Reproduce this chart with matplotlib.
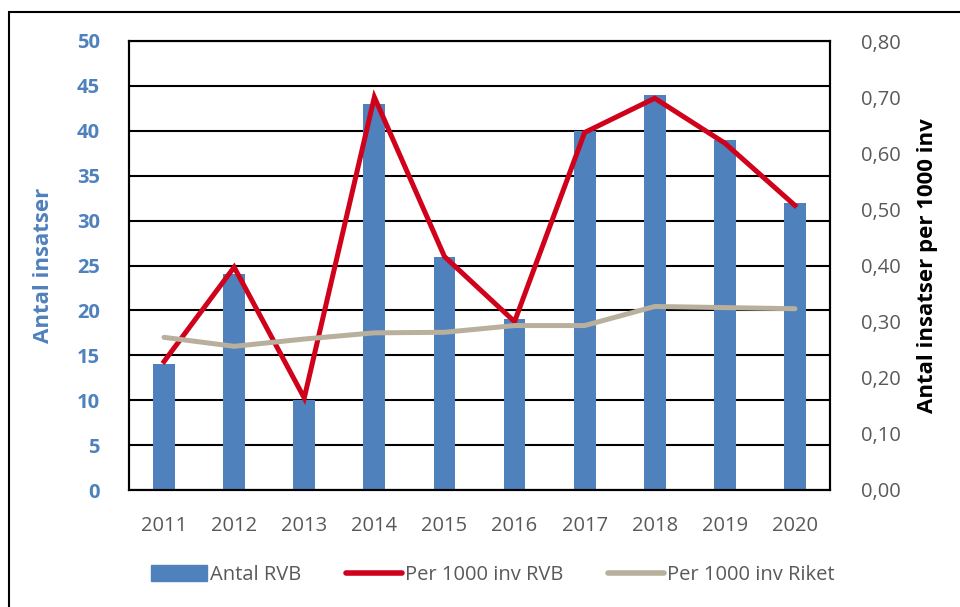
import matplotlib
matplotlib.use("Agg")
import matplotlib.pyplot as plt
from matplotlib.patches import Rectangle
from matplotlib.lines import Line2D

plt.rcParams['font.family'] = ['Open Sans', 'DejaVu Sans']

years = ['2011', '2012', '2013', '2014', '2015', '2016', '2017', '2018', '2019', '2020']
antal_rvb = [14, 24, 10, 43, 26, 19, 40, 44, 39, 32]
per1000_rvb = [0.229, 0.397, 0.164, 0.700, 0.416, 0.300, 0.637, 0.698, 0.618, 0.507]
per1000_riket = [0.272, 0.256, 0.269, 0.280, 0.281, 0.293, 0.293, 0.327, 0.325, 0.323]
left_ticks = [0, 5, 10, 15, 20, 25, 30, 35, 40, 45, 50]
right_ticks = [0.0, 0.1, 0.2, 0.3, 0.4, 0.5, 0.6, 0.7, 0.8]

blue = '#4F81BD'
red = '#D0021B'
gray = '#B8B09C'
txtgray = '#595959'

fig = plt.figure(figsize=(9.6, 6.07), dpi=100)
ax = fig.add_axes([129/960, 1-490/607, (830-129)/960, (490-41)/607])
x = list(range(len(years)))
ax.bar(x, antal_rvb, width=0.31, color=blue, zorder=2, label='Antal RVB')
ax.set_xlim(-0.5, len(years)-0.5)
ax.set_ylim(0, 50)
ax.set_yticks(left_ticks)
ax.set_yticklabels([str(t) for t in left_ticks], color=blue, fontweight='bold', fontsize=14.5)
ax.set_xticks(x)
ax.set_xticklabels(years, color=txtgray, fontsize=14.5)
ax.tick_params(axis='both', length=0)
ax.tick_params(axis='y', pad=21)
ax.tick_params(axis='x', pad=19)
ax.grid(axis='y', color='black', linewidth=1.5, zorder=0)
ax.set_axisbelow(True)
for s in ax.spines.values():
    s.set_color('black')
    s.set_linewidth(1.5)
ax.set_ylabel('Antal insatser', color=blue, fontweight='bold', fontsize=16, labelpad=16)

ax2 = ax.twinx()
ax2.plot(x, per1000_rvb, color=red, linewidth=3.6, zorder=3, solid_joinstyle='miter', label='Per 1000 inv RVB')
ax2.plot(x, per1000_riket, color=gray, linewidth=3.6, zorder=3, solid_capstyle='round', label='Per 1000 inv Riket')
ax2.set_ylim(0, 0.8)
ax2.set_yticks(right_ticks)
ax2.set_yticklabels([f"{t:.2f}".replace('.', ',') for t in right_ticks], color=txtgray, fontsize=14.5)
ax2.tick_params(axis='y', length=0, pad=22)
for s in ax2.spines.values():
    s.set_color('black')
    s.set_linewidth(1.5)
ax2.set_ylabel('Antal insatser per 1000 inv', color='black', fontweight='bold', fontsize=16, labelpad=12)

handles = [Rectangle((0, 0), 1, 1, color=blue),
           Line2D([0], [0], color=red, linewidth=4, solid_capstyle='round'),
           Line2D([0], [0], color=gray, linewidth=4, solid_capstyle='round')]
labels = ['Antal RVB', 'Per 1000 inv RVB', 'Per 1000 inv Riket']
leg = fig.legend(handles, labels, loc='center', bbox_to_anchor=(493/960, 1-575/607), ncol=3,
                 frameon=False, fontsize=14.5, handlelength=2.8, handleheight=0.8,
                 handletextpad=0.15, columnspacing=2.2)
for t in leg.get_texts():
    t.set_color(txtgray)

fig.patches.append(Rectangle((9/960, -0.2), 1.2, 1-12/607+0.2, transform=fig.transFigure,
                             fill=False, edgecolor='black', linewidth=1.5, zorder=10))

fig.savefig('out.png', dpi=100)
